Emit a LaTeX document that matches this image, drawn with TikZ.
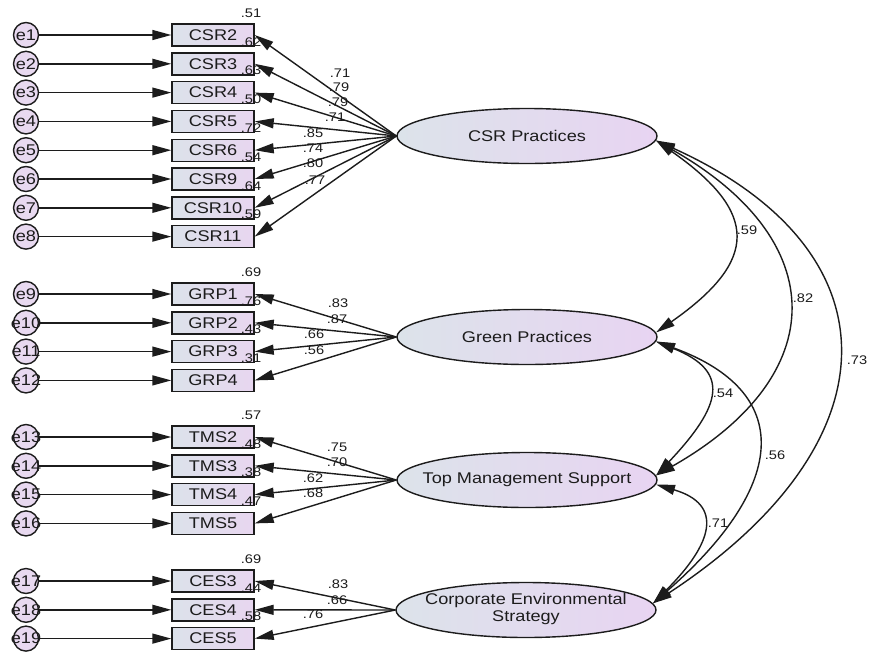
\documentclass[tikz,border=0pt]{standalone}
\usepackage{fontspec}
\setmainfont[FakeStretch=1.17]{Liberation Sans}
\usepackage{tikz}
\usetikzlibrary{arrows.meta,shapes.geometric}
\definecolor{ink}{HTML}{1C1C1C}
\definecolor{boxleft}{HTML}{DCE2EA}
\definecolor{boxright}{HTML}{E8D6F0}
\definecolor{latleft}{HTML}{DCE3EA}
\definecolor{latright}{HTML}{E8D4F2}
\definecolor{errfill}{HTML}{E8D9F0}

\begin{document}
\begin{tikzpicture}[x=1pt,y=-1pt,
  lat/.style={ellipse,draw=ink,line width=1.4pt,left color=latleft,right color=latright,
    minimum width=260pt,minimum height=55pt,inner sep=0pt,text=ink,
    font=\fontsize{15.5}{17}\selectfont},
  obs/.style={rectangle,draw=ink,line width=1.4pt,left color=boxleft,right color=boxright,
    minimum width=82pt,minimum height=22pt,inner sep=0pt,text=ink,
    font=\fontsize{15.5}{17}\selectfont},
  err/.style={circle,draw=ink,line width=1.4pt,fill=errfill,minimum size=25pt,
    inner sep=0pt,text=ink,font=\fontsize{15.5}{17}\selectfont},
  num/.style={inner sep=0pt,text=ink,font=\fontsize{12.5}{14}\selectfont},
  regpath/.style={draw=ink,line width=1.4pt,-{Triangle[length=19pt,width=10pt]}},
  covpath/.style={draw=ink,line width=1.4pt,
    {Triangle[length=19pt,width=10pt]}-{Triangle[length=19pt,width=10pt]}}]
  \path[use as bounding box,fill=white] (0,0) rectangle (869,651);

  % Latent factors (text kept out of the ellipse size).
  \node[lat] (csr) at (527,136) {\makebox[0pt]{CSR Practices}};
  \node[lat] (grp) at (527,337) {\makebox[0pt]{Green Practices}};
  \node[lat] (tms) at (527,480) {\makebox[0pt]{Top Management Support}};
  \node[lat] (ces) at (526,610)
    {\makebox[0pt]{\begin{tabular}{@{}c@{}}Corporate Environmental\\Strategy\end{tabular}}};

  % error, indicator, R^2 and loading for one row.
  \newcommand{\itemrow}[9]{%
    \node[err] (e#2) at (26,#5) {\makebox[0pt]{e#2}};
    \node[obs] (#3) at (213,#5) {#4};
    \node[num] (r#3) at (251,#5-22) {#6};
    \draw[regpath] (e#2) -- (#3);
    \draw[regpath] (#1.west) -- (#3.east);
    \node[num] (l#3) at (#8,#9) {#7};
  }

  \itemrow{csr}{1}{csr2}{CSR2}{35}{.51}{.71}{340}{73}
  \itemrow{csr}{2}{csr3}{CSR3}{63.8}{.62}{.79}{339}{87}
  \itemrow{csr}{3}{csr4}{CSR4}{92.6}{.63}{.79}{338}{102}
  \itemrow{csr}{4}{csr5}{CSR5}{121.4}{.50}{.71}{335}{117}
  \itemrow{csr}{5}{csr6}{CSR6}{150.2}{.72}{.85}{313}{133}
  \itemrow{csr}{6}{csr9}{CSR9}{179}{.54}{.74}{313}{148}
  \itemrow{csr}{7}{csr10}{CSR10}{207.8}{.64}{.80}{313}{163}
  \itemrow{csr}{8}{csr11}{CSR11}{236.6}{.59}{.77}{315}{180}

  \itemrow{grp}{9}{grp1}{GRP1}{294}{.69}{.83}{338}{303}
  \itemrow{grp}{10}{grp2}{GRP2}{322.8}{.76}{.87}{337}{319}
  \itemrow{grp}{11}{grp3}{GRP3}{351.6}{.43}{.66}{314}{334}
  \itemrow{grp}{12}{grp4}{GRP4}{380.4}{.31}{.56}{314}{350}

  \itemrow{tms}{13}{tms2}{TMS2}{437}{.57}{.75}{337}{447}
  \itemrow{tms}{14}{tms3}{TMS3}{465.8}{.48}{.70}{337}{462}
  \itemrow{tms}{15}{tms4}{TMS4}{494.6}{.38}{.62}{313}{478}
  \itemrow{tms}{16}{tms5}{TMS5}{523.4}{.47}{.68}{313}{493}

  \itemrow{ces}{17}{ces3}{CES3}{581}{.69}{.83}{338}{584}
  \itemrow{ces}{18}{ces4}{CES4}{609.8}{.44}{.66}{337}{600}
  \itemrow{ces}{19}{ces5}{CES5}{638.6}{.58}{.76}{313}{614}

  % Factor correlations.
  \draw[covpath] (csr.-2) .. controls +(103,72) and +(103,-72) .. (grp.2);
  \draw[covpath] (csr.-2) .. controls +(176,100) and +(176,-100) .. (tms.2);
  \draw[covpath] (csr.-2) .. controls +(244,110) and +(244,-160) .. (ces.3);
  \draw[covpath] (grp.-2) .. controls +(75,30) and +(66,-70) .. (tms.2);
  \draw[covpath] (grp.-2) .. controls +(137,50) and +(137,-120) .. (ces.3);
  \draw[covpath] (tms.-2) .. controls +(68,20) and +(60,-60) .. (ces.3);

  \node[num] (c1) at (747,230) {.59};
  \node[num] (c2) at (803,298) {.82};
  \node[num] (c3) at (857,360) {.73};
  \node[num] (c4) at (723,393) {.54};
  \node[num] (c5) at (775,455) {.56};
  \node[num] (c6) at (718,523) {.71};
\end{tikzpicture}
\end{document}
